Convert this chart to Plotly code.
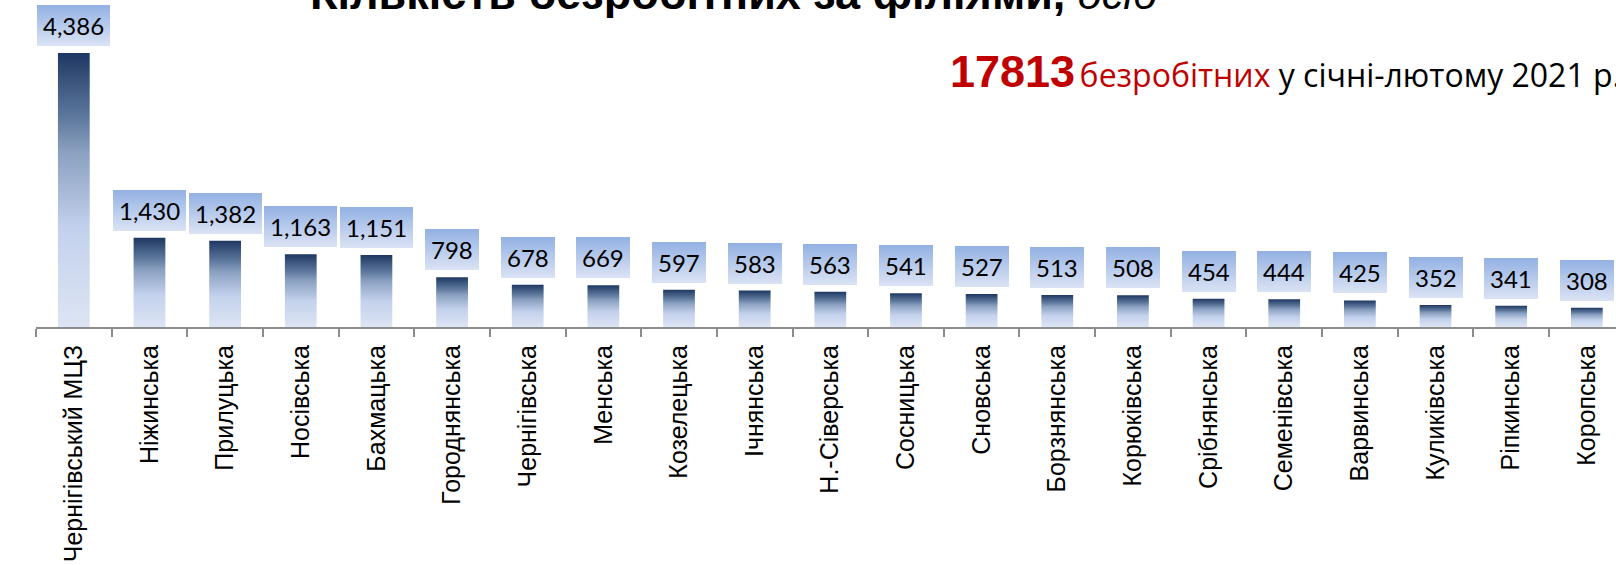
import plotly.graph_objects as go

# unemployed persons per branch, Jan-Feb 2021
branches = ["Чернігівський МЦЗ", "Ніжинська", "Прилуцька", "Носівська", "Бахмацька",
            "Городнянська", "Чернігівська", "Менська", "Козелецька", "Ічнянська",
            "Н.-Сіверська", "Сосницька", "Сновська", "Борзнянська", "Корюківська",
            "Срібнянська", "Семенівська", "Варвинська", "Куликівська", "Ріпкинська",
            "Коропська"]
unemployed = [4386, 1430, 1382, 1163, 1151, 798, 678, 669, 597, 583, 563, 541,
              527, 513, 508, 454, 444, 425, 352, 341, 308]
total_unemployed = 17813

W, H = 1616, 565
L, T, B = 36, 27, 238
plot_w, plot_h = W - L, H - T - B


def px_x(x):
    return (x - L) / plot_w


def px_y(y):
    return (H - B - y) / plot_h


fig = go.Figure(go.Bar(
    x=branches, y=unemployed,
    marker=dict(color="#8aa0c0", line=dict(width=0)),
    width=0.42,
    hoverinfo="skip",
))

for b, v in zip(branches, unemployed):
    fig.add_annotation(
        x=b, y=v, xref="x", yref="y", yanchor="bottom", yshift=7,
        text=f"{v:,}", showarrow=False,
        font=dict(family="Lato", size=24, color="black"),
        bgcolor="#c5d5ef", borderpad=6, borderwidth=0,
    )

fig.add_annotation(
    xref="paper", yref="paper", x=px_x(308), y=px_y(21),
    xanchor="left", yanchor="bottom", showarrow=False,
    text="<b>Кількість безробітних за філіями,</b> <i><span style='font-size:43px'>осіб</span></i>",
    font=dict(family="Liberation Sans", size=45, color="black"),
)

fig.add_annotation(
    xref="paper", yref="paper", x=px_x(948), y=px_y(99),
    xanchor="left", yanchor="bottom", showarrow=False,
    text=(f"<b>{total_unemployed}</b>"
          "<span style='font-size:16px'> </span>"
          "<span style='font-size:32px;font-family:Open Sans'>безробітних</span>"
          "<span style='font-size:32px;font-family:Open Sans;color:black'> у січні-лютому 2021 р.</span>"),
    font=dict(family="Liberation Sans", size=45, color="#c00000"),
)

fig.update_layout(
    width=W, height=H,
    margin=dict(l=L, r=0, t=T, b=B, autoexpand=False),
    paper_bgcolor="white", plot_bgcolor="white",
    showlegend=False,
    xaxis=dict(
        range=[-0.5, -0.5 + plot_w / 75.65],
        tickson="boundaries", ticks="outside", ticklen=8, tickwidth=2, tickcolor="#8c8c8c",
        showline=True, linecolor="#8c8c8c", linewidth=2,
        tickangle=-90, ticklabelstandoff=6, automargin=False,
        tickfont=dict(family="Liberation Sans", size=25, color="black"),
        showgrid=False, fixedrange=True,
    ),
    yaxis=dict(
        range=[0, plot_h / 0.0625], automargin=False,
        showline=False, showgrid=False, zeroline=False,
        showticklabels=False, ticks="", fixedrange=True,
    ),
)

post_js = """
document.body.style.margin = '0';
var gd = document.getElementById('{plot_id}');
var nLabels = %d;
function addGrad(defs, id, stops) {
  if (document.getElementById(id)) return;
  var ns = 'http://www.w3.org/2000/svg';
  var g = document.createElementNS(ns, 'linearGradient');
  g.setAttribute('id', id);
  g.setAttribute('x1', '0'); g.setAttribute('y1', '0');
  g.setAttribute('x2', '0'); g.setAttribute('y2', '1');
  stops.forEach(function (s) {
    var st = document.createElementNS(ns, 'stop');
    st.setAttribute('offset', s[0]);
    st.setAttribute('stop-color', s[1]);
    g.appendChild(st);
  });
  defs.appendChild(g);
}
function paint() {
  var defs = gd.querySelector('svg.main-svg defs');
  addGrad(defs, 'barFade', [[0, '#1e3762'], [0.24, '#5f7a9e'], [0.36, '#8aa0c0'],
                            [0.64, '#c3d1ec'], [1, '#dde5f4']]);
  addGrad(defs, 'boxFade', [[0, '#93b1e3'], [1, '#dbe3f4']]);
  gd.querySelectorAll('.bars .point path').forEach(function (p) {
    p.style.fill = 'url(#barFade)';
  });
  gd.querySelectorAll('.annotation').forEach(function (a) {
    if (+a.getAttribute('data-index') < nLabels) {
      var r = a.querySelector('rect.bg');
      if (r) r.style.fill = 'url(#boxFade)';
    }
  });
}
paint();
gd.on('plotly_afterplot', paint);
""" % len(branches)

fig.write_html("out.html", post_script=post_js, config={"displayModeBar": False})
